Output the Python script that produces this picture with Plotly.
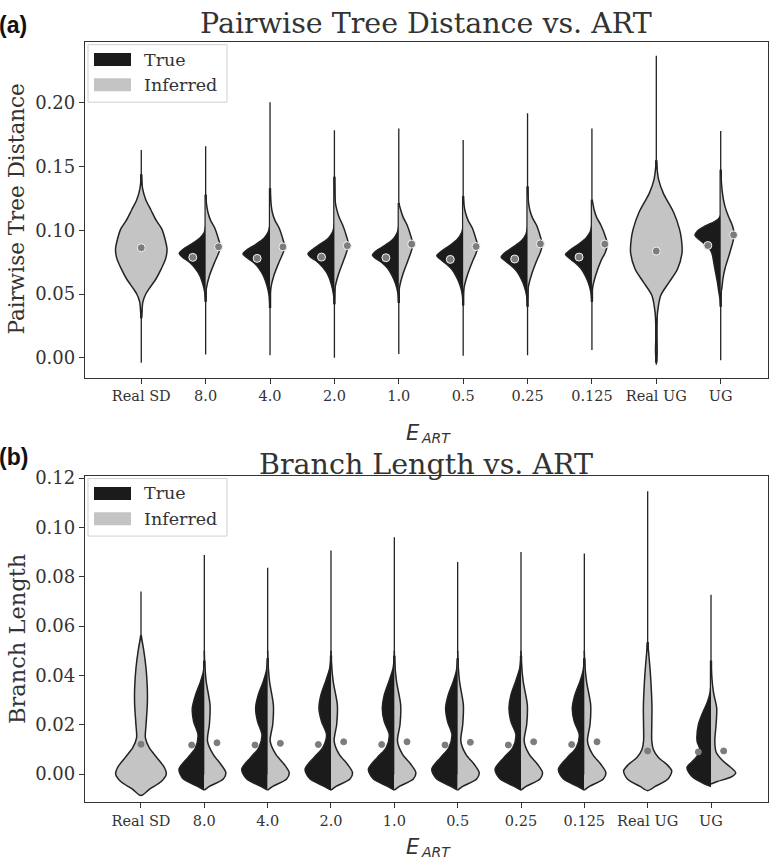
import plotly.graph_objects as go

W, H = 769, 862

CATEGORIES = ["Real SD", "8.0", "4.0", "2.0", "1.0", "0.5", "0.25", "0.125", "Real UG", "UG"]
SPLIT = ["8.0", "4.0", "2.0", "1.0", "0.5", "0.25", "0.125", "UG"]
FULL = ["Real SD", "Real UG"]

# ---------------- Panel (a): Pairwise tree distance ----------------
# half-violin outlines: [value, half-width in category units]
PTD_TRUE = {
    "8.0":   [[0.044, 0], [0.0516, 0.015], [0.058, 0.045], [0.0645, 0.09], [0.070, 0.16], [0.075, 0.25], [0.079, 0.36], [0.082, 0.41], [0.0855, 0.34], [0.0895, 0.21], [0.094, 0.09], [0.098, 0.025], [0.104, 0]],
    "4.0":   [[0.039, 0], [0.049, 0.015], [0.057, 0.05], [0.064, 0.10], [0.070, 0.17], [0.075, 0.26], [0.079, 0.37], [0.0815, 0.42], [0.085, 0.35], [0.089, 0.22], [0.094, 0.09], [0.099, 0.025], [0.105, 0]],
    "2.0":   [[0.042, 0], [0.050, 0.015], [0.058, 0.05], [0.065, 0.10], [0.071, 0.18], [0.076, 0.28], [0.079, 0.37], [0.0815, 0.41], [0.085, 0.34], [0.0895, 0.21], [0.094, 0.09], [0.099, 0.025], [0.105, 0]],
    "1.0":   [[0.043, 0], [0.051, 0.015], [0.058, 0.05], [0.064, 0.10], [0.070, 0.17], [0.075, 0.27], [0.078, 0.36], [0.0805, 0.41], [0.084, 0.35], [0.088, 0.22], [0.093, 0.09], [0.098, 0.025], [0.104, 0]],
    "0.5":   [[0.041, 0], [0.050, 0.015], [0.057, 0.05], [0.063, 0.10], [0.069, 0.17], [0.074, 0.27], [0.0775, 0.36], [0.080, 0.41], [0.0835, 0.34], [0.088, 0.21], [0.093, 0.09], [0.098, 0.025], [0.104, 0]],
    "0.25":  [[0.040, 0], [0.049, 0.015], [0.056, 0.05], [0.062, 0.10], [0.068, 0.17], [0.073, 0.27], [0.0765, 0.36], [0.079, 0.41], [0.0825, 0.35], [0.087, 0.22], [0.092, 0.09], [0.097, 0.025], [0.103, 0]],
    "0.125": [[0.044, 0], [0.051, 0.015], [0.058, 0.05], [0.064, 0.10], [0.070, 0.17], [0.075, 0.27], [0.0785, 0.36], [0.081, 0.41], [0.0845, 0.34], [0.089, 0.21], [0.094, 0.09], [0.099, 0.025], [0.105, 0]],
    "UG":    [[0.040, 0], [0.046, 0.01], [0.052, 0.03], [0.059, 0.05], [0.0697, 0.09], [0.0785, 0.12], [0.0827, 0.14], [0.086, 0.18], [0.089, 0.24], [0.093, 0.34], [0.0962, 0.40], [0.0995, 0.36], [0.1034, 0.24], [0.1065, 0.11], [0.1086, 0.04], [0.112, 0]],
}
PTD_INF = {
    "8.0":   [[0.045, 0], [0.054, 0.01], [0.0645, 0.06], [0.075, 0.14], [0.082, 0.20], [0.087, 0.23], [0.093, 0.20], [0.102, 0.14], [0.108, 0.075], [0.114, 0.036], [0.120, 0.015], [0.128, 0]],
    "4.0":   [[0.045, 0], [0.054, 0.01], [0.0645, 0.06], [0.075, 0.14], [0.082, 0.20], [0.087, 0.23], [0.093, 0.20], [0.102, 0.14], [0.108, 0.075], [0.114, 0.036], [0.121, 0.015], [0.133, 0]],
    "2.0":   [[0.046, 0], [0.055, 0.01], [0.065, 0.06], [0.076, 0.14], [0.083, 0.19], [0.089, 0.22], [0.095, 0.19], [0.104, 0.13], [0.110, 0.075], [0.1165, 0.036], [0.1215, 0.015], [0.142, 0]],
    "1.0":   [[0.046, 0], [0.055, 0.01], [0.065, 0.06], [0.076, 0.14], [0.083, 0.19], [0.089, 0.22], [0.095, 0.19], [0.104, 0.13], [0.110, 0.07], [0.116, 0.03], [0.1215, 0]],
    "0.5":   [[0.045, 0], [0.054, 0.01], [0.064, 0.06], [0.075, 0.14], [0.082, 0.20], [0.0873, 0.23], [0.093, 0.20], [0.102, 0.14], [0.108, 0.075], [0.114, 0.035], [0.120, 0.012], [0.127, 0]],
    "0.25":  [[0.046, 0], [0.055, 0.01], [0.065, 0.06], [0.076, 0.14], [0.083, 0.20], [0.089, 0.23], [0.095, 0.20], [0.104, 0.14], [0.110, 0.075], [0.116, 0.035], [0.122, 0.015], [0.1345, 0]],
    "0.125": [[0.046, 0], [0.055, 0.01], [0.065, 0.06], [0.076, 0.14], [0.083, 0.21], [0.089, 0.24], [0.095, 0.21], [0.104, 0.14], [0.110, 0.075], [0.116, 0.035], [0.1215, 0.012], [0.124, 0]],
    "UG":    [[0.050, 0], [0.054, 0.016], [0.062, 0.035], [0.070, 0.067], [0.083, 0.145], [0.0964, 0.21], [0.104, 0.18], [0.111, 0.12], [0.120, 0.06], [0.130, 0.025], [0.140, 0.008], [0.1475, 0]],
}
PTD_FULL = {
    "Real SD": [[0.031, 0], [0.0438, 0.025], [0.050, 0.07], [0.054, 0.12], [0.062, 0.23], [0.0697, 0.31], [0.078, 0.38], [0.0853, 0.40], [0.093, 0.37], [0.101, 0.32], [0.108, 0.23], [0.116, 0.15], [0.124, 0.07], [0.133, 0.02], [0.144, 0]],
    "Real UG": [[-0.004, 0], [0.005, 0.012], [0.015, 0.008], [0.025, 0.008], [0.036, 0.02], [0.049, 0.07], [0.0593, 0.20], [0.0697, 0.33], [0.0827, 0.40], [0.093, 0.39], [0.101, 0.36], [0.114, 0.27], [0.1215, 0.19], [0.129, 0.11], [0.140, 0.035], [0.155, 0]],
}
PTD_MEAN_TRUE = [0.0788, 0.0780, 0.0790, 0.0785, 0.0772, 0.0775, 0.0790, 0.0881]
PTD_MEAN_INF = [0.0871, 0.0870, 0.0880, 0.0892, 0.0873, 0.0894, 0.0892, 0.0964]
PTD_MEAN_FULL = [0.0863, 0.0837]
PTD_MIN = [-0.004, 0.0025, 0.002, 0.0, 0.003, 0.0015, 0.002, 0.006, -0.0055, -0.002]
PTD_MAX = [0.163, 0.166, 0.2006, 0.1786, 0.180, 0.171, 0.192, 0.180, 0.237, 0.178]
PTD_WLO = [0.031, 0.044, 0.039, 0.042, 0.043, 0.041, 0.040, 0.044, -0.004, 0.040]
PTD_WHI = [0.144, 0.128, 0.133, 0.142, 0.1215, 0.127, 0.1345, 0.124, 0.155, 0.1475]

# ---------------- Panel (b): Branch length ----------------
BL_TRUE = {
    "8.0":   [[-0.0065, 0], [-0.005, 0.10], [-0.002, 0.33], [0.002, 0.40], [0.0067, 0.26], [0.0107, 0.14], [0.016, 0.10], [0.0214, 0.17], [0.0267, 0.19], [0.032, 0.14], [0.0375, 0.06], [0.0415, 0.015], [0.046, 0]],
    "4.0":   [[-0.0065, 0], [-0.005, 0.10], [-0.002, 0.33], [0.002, 0.41], [0.0067, 0.27], [0.0107, 0.14], [0.016, 0.09], [0.0214, 0.16], [0.0267, 0.19], [0.032, 0.15], [0.0375, 0.07], [0.042, 0.02], [0.047, 0]],
    "2.0":   [[-0.0065, 0], [-0.005, 0.10], [-0.002, 0.33], [0.002, 0.41], [0.0067, 0.27], [0.0107, 0.13], [0.016, 0.07], [0.0214, 0.15], [0.0267, 0.19], [0.032, 0.16], [0.038, 0.08], [0.043, 0.02], [0.048, 0]],
    "1.0":   [[-0.0065, 0], [-0.005, 0.10], [-0.002, 0.33], [0.002, 0.41], [0.0067, 0.27], [0.0107, 0.13], [0.016, 0.08], [0.0214, 0.16], [0.0267, 0.19], [0.032, 0.16], [0.038, 0.08], [0.043, 0.02], [0.048, 0]],
    "0.5":   [[-0.0065, 0], [-0.005, 0.10], [-0.002, 0.33], [0.002, 0.41], [0.0067, 0.27], [0.0107, 0.14], [0.016, 0.09], [0.0214, 0.16], [0.0267, 0.19], [0.032, 0.15], [0.0375, 0.07], [0.042, 0.02], [0.047, 0]],
    "0.25":  [[-0.0065, 0], [-0.005, 0.10], [-0.002, 0.33], [0.002, 0.41], [0.0067, 0.27], [0.0107, 0.13], [0.016, 0.08], [0.0214, 0.16], [0.0267, 0.19], [0.032, 0.16], [0.038, 0.08], [0.043, 0.02], [0.048, 0]],
    "0.125": [[-0.0065, 0], [-0.005, 0.10], [-0.002, 0.33], [0.002, 0.41], [0.0067, 0.27], [0.0107, 0.13], [0.016, 0.08], [0.0214, 0.16], [0.0267, 0.19], [0.032, 0.15], [0.0375, 0.07], [0.042, 0.02], [0.047, 0]],
    "UG":    [[-0.005, 0], [-0.004, 0.10], [-0.001, 0.30], [0.0027, 0.38], [0.006, 0.26], [0.0094, 0.17], [0.0134, 0.22], [0.020, 0.20], [0.025, 0.13], [0.029, 0.06], [0.033, 0.015], [0.037, 0]],
}
BL_INF = {
    "8.0":   [[-0.0065, 0], [-0.005, 0.08], [-0.002, 0.30], [0.0006, 0.34], [0.004, 0.26], [0.008, 0.14], [0.0134, 0.05], [0.0201, 0.08], [0.0281, 0.09], [0.0375, 0.03], [0.0455, 0.005], [0.050, 0]],
    "4.0":   [[-0.0065, 0], [-0.005, 0.08], [-0.002, 0.30], [0.0006, 0.34], [0.004, 0.26], [0.008, 0.13], [0.0134, 0.04], [0.0201, 0.08], [0.0281, 0.09], [0.0375, 0.03], [0.0455, 0.005], [0.050, 0]],
    "2.0":   [[-0.0065, 0], [-0.005, 0.08], [-0.002, 0.30], [0.0006, 0.34], [0.004, 0.26], [0.008, 0.13], [0.0134, 0.05], [0.0201, 0.09], [0.0281, 0.10], [0.0375, 0.035], [0.0455, 0.005], [0.050, 0]],
    "1.0":   [[-0.0065, 0], [-0.005, 0.08], [-0.002, 0.30], [0.0006, 0.34], [0.004, 0.26], [0.008, 0.13], [0.0134, 0.05], [0.0201, 0.09], [0.0281, 0.10], [0.0375, 0.035], [0.0455, 0.005], [0.050, 0]],
    "0.5":   [[-0.0065, 0], [-0.005, 0.08], [-0.002, 0.30], [0.0006, 0.34], [0.004, 0.26], [0.008, 0.13], [0.0134, 0.05], [0.0201, 0.08], [0.0281, 0.09], [0.0375, 0.03], [0.0455, 0.005], [0.050, 0]],
    "0.25":  [[-0.0065, 0], [-0.005, 0.08], [-0.002, 0.30], [0.0006, 0.34], [0.004, 0.26], [0.008, 0.13], [0.0134, 0.05], [0.0201, 0.09], [0.0281, 0.10], [0.0375, 0.035], [0.0455, 0.005], [0.050, 0]],
    "0.125": [[-0.0065, 0], [-0.005, 0.08], [-0.002, 0.30], [0.0006, 0.34], [0.004, 0.26], [0.008, 0.13], [0.0134, 0.05], [0.0201, 0.09], [0.0281, 0.10], [0.0375, 0.035], [0.0455, 0.005], [0.050, 0]],
    "UG":    [[-0.004, 0], [-0.003, 0.10], [-0.001, 0.33], [0.0006, 0.39], [0.003, 0.30], [0.0053, 0.19], [0.009, 0.08], [0.0134, 0.06], [0.020, 0.08], [0.0267, 0.09], [0.033, 0.04], [0.040, 0.01], [0.046, 0]],
}
BL_FULL = {
    "Real SD": [[-0.0087, 0], [-0.006, 0.14], [-0.003, 0.32], [0.0, 0.40], [0.0027, 0.37], [0.0067, 0.25], [0.0107, 0.13], [0.0147, 0.07], [0.0201, 0.08], [0.0281, 0.10], [0.0348, 0.10], [0.0428, 0.08], [0.0508, 0.04], [0.0562, 0]],
    "Real UG": [[-0.0067, 0], [-0.005, 0.12], [-0.002, 0.32], [0.0013, 0.38], [0.0040, 0.30], [0.0067, 0.17], [0.010, 0.09], [0.0134, 0.065], [0.020, 0.065], [0.0267, 0.068], [0.033, 0.06], [0.040, 0.045], [0.048, 0.02], [0.0535, 0]],
}
BL_MEAN_TRUE = [0.0118, 0.0118, 0.0120, 0.0120, 0.0118, 0.0118, 0.0120, 0.0090]
BL_MEAN_INF = [0.0127, 0.0125, 0.0131, 0.0131, 0.0129, 0.0131, 0.0131, 0.0094]
BL_MEAN_FULL = [0.0121, 0.0094]
BL_MIN = [0.0, 0.0, 0.0, 0.0, 0.0, 0.0, 0.0, 0.0, 0.0, 0.0]
BL_MAX = [0.074, 0.0888, 0.0837, 0.0906, 0.096, 0.086, 0.090, 0.0894, 0.1147, 0.0727]
BL_WLO = [0.0, 0.0, 0.0, 0.0, 0.0, 0.0, 0.0, 0.0, 0.0, 0.0]
BL_WHI = [0.0562, 0.046, 0.047, 0.048, 0.048, 0.047, 0.048, 0.047, 0.0535, 0.046]

TRUE_COLOR = "#1b1b1b"
INF_COLOR = "#c4c4c4"
EDGE = "#222222"
DOT = "#7c7c7c"
TXT = "#333333"
SERIF = "DejaVu Serif, serif"
SANS = "Liberation Sans, Arial, sans-serif"
ITAL = "DejaVu Sans, sans-serif"

fig = go.Figure()


def add_panel(xa, ya, true_d, inf_d, full_d, m_true, m_inf, m_full, vmin, vmax, wlo, whi, dot_edge, dot_size):
    # whisker lines
    for i, c in enumerate(CATEGORIES):
        fig.add_trace(go.Scatter(x=[i, i], y=[vmin[i], vmax[i]], mode="lines",
                                 line=dict(color=EDGE, width=1.3), xaxis=xa, yaxis=ya,
                                 showlegend=False, hoverinfo="skip"))
        fig.add_trace(go.Scatter(x=[i, i], y=[wlo[i], whi[i]], mode="lines",
                                 line=dict(color=EDGE, width=2.4), xaxis=xa, yaxis=ya,
                                 showlegend=False, hoverinfo="skip"))
    # full violins
    for c in FULL:
        i = CATEGORIES.index(c)
        prof = full_d[c]
        ys = [p[0] for p in prof] + [p[0] for p in prof[::-1]]
        xs = [i + p[1] for p in prof] + [i - p[1] for p in prof[::-1]]
        fig.add_trace(go.Scatter(x=xs, y=ys, mode="lines", fill="toself", fillcolor=INF_COLOR,
                                 line=dict(color=EDGE, width=1.5, shape="spline", smoothing=0.8),
                                 xaxis=xa, yaxis=ya, showlegend=False, hoverinfo="skip"))
    # split violins
    for c in SPLIT:
        i = CATEGORIES.index(c)
        for prof, side, col in ((true_d[c], -1, TRUE_COLOR), (inf_d[c], 1, INF_COLOR)):
            fig.add_trace(go.Scatter(x=[i + side * p[1] for p in prof], y=[p[0] for p in prof],
                                     mode="lines", fill="toself", fillcolor=col,
                                     line=dict(color=EDGE, width=1.5, shape="spline", smoothing=0.8),
                                     xaxis=xa, yaxis=ya, showlegend=False, hoverinfo="skip"))
    # mean markers
    sx = [CATEGORIES.index(c) for c in SPLIT]
    fx = [CATEGORIES.index(c) for c in FULL]
    mk = dict(color=DOT, size=dot_size, line=dict(color=dot_edge, width=1))
    fig.add_trace(go.Scatter(x=[v - 0.2 for v in sx], y=m_true, mode="markers", marker=mk,
                             xaxis=xa, yaxis=ya, showlegend=False))
    fig.add_trace(go.Scatter(x=[v + 0.2 for v in sx], y=m_inf, mode="markers", marker=mk,
                             xaxis=xa, yaxis=ya, showlegend=False))
    fig.add_trace(go.Scatter(x=fx, y=m_full, mode="markers", marker=mk,
                             xaxis=xa, yaxis=ya, showlegend=False))


add_panel("x", "y", PTD_TRUE, PTD_INF, PTD_FULL, PTD_MEAN_TRUE, PTD_MEAN_INF, PTD_MEAN_FULL,
          PTD_MIN, PTD_MAX, PTD_WLO, PTD_WHI, "#f2f2f2", 8)
add_panel("x2", "y2", BL_TRUE, BL_INF, BL_FULL, BL_MEAN_TRUE, BL_MEAN_INF, BL_MEAN_FULL,
          BL_MIN, BL_MAX, BL_WLO, BL_WHI, DOT, 6)

# layout geometry (pixels)
L, R = 85, 767.5
T1, B1 = 34, 373
T2, B2 = 472, 801.7


def px(x):
    return x / W


def py(y):
    return 1 - y / H


axis_common = dict(showline=True, mirror=True, linecolor=TXT, linewidth=1.3, ticks="outside",
                   ticklen=5, tickwidth=1.2, tickcolor=TXT, showgrid=False, zeroline=False)

fig.update_layout(
    width=W, height=H, margin=dict(l=0, r=0, t=0, b=0),
    paper_bgcolor="white", plot_bgcolor="white", showlegend=False,
    font=dict(family=SERIF, color=TXT),
    xaxis=dict(domain=[px(L), px(R)], range=[-0.874, 9.727], tickvals=list(range(10)),
               ticktext=CATEGORIES, tickfont=dict(size=14.5, family=SERIF, color=TXT),
               anchor="y", **axis_common),
    yaxis=dict(domain=[py(B1), py(T1)], range=[-0.01555, 0.2481], tickvals=[0, 0.05, 0.10, 0.15, 0.20],
               tickformat=".2f", tickfont=dict(size=18, family=SERIF, color=TXT), anchor="x", **axis_common),
    xaxis2=dict(domain=[px(L), px(R)], range=[-0.884, 9.892], tickvals=list(range(10)),
                ticktext=CATEGORIES, tickfont=dict(size=14.5, family=SERIF, color=TXT),
                anchor="y2", **axis_common),
    yaxis2=dict(domain=[py(B2), py(T2)], range=[-0.0114, 0.1210],
                tickvals=[0, 0.02, 0.04, 0.06, 0.08, 0.10, 0.12], tickformat=".2f",
                tickfont=dict(size=18, family=SERIF, color=TXT), anchor="x2", **axis_common),
)

ann = []
shapes = []


def text(x, y, s, size, family=SERIF, angle=0, xanchor="center", color=TXT):
    ann.append(dict(x=px(x), y=py(y), xref="paper", yref="paper", text=s, showarrow=False,
                    font=dict(size=size, family=family, color=color), textangle=angle,
                    xanchor=xanchor, yanchor="middle", borderpad=0))


# titles and labels
text(426, 16, "Pairwise Tree Distance vs. ART", 28.5)
text(426, 461, "Branch Length vs. ART", 28.5)
text(13, 17, "<b>(a)</b>", 23, family=SANS, color="#111")
text(13, 453, "<b>(b)</b>", 23, family=SANS, color="#111")
text(17, (T1 + B1) / 2, "Pairwise Tree Distance", 21.5, angle=-90)
text(17, (T2 + B2) / 2, "Branch Length", 22.5, angle=-90)
# x-axis label E_ART (E with italic subscript ART)
for ey in (429, 847):
    text(421, ey, "<i>E</i>", 21, family=ITAL, xanchor="right")
    text(420, ey + 5, "<i>ART</i>", 14, family=ITAL, xanchor="left")

# legends
for top in (T1, T2):
    shapes.append(dict(type="rect", xref="paper", yref="paper", x0=px(88), x1=px(227),
                       y0=py(top + 61), y1=py(top + 3), line=dict(color="#d0d0d0", width=1),
                       fillcolor="rgba(255,255,255,0.85)"))
    shapes.append(dict(type="rect", xref="paper", yref="paper", x0=px(94), x1=px(131),
                       y0=py(top + 24.5), y1=py(top + 11.5), line=dict(width=0), fillcolor=TRUE_COLOR))
    shapes.append(dict(type="rect", xref="paper", yref="paper", x0=px(94), x1=px(131),
                       y0=py(top + 50), y1=py(top + 37), line=dict(width=0), fillcolor=INF_COLOR))
    text(143, top + 18, "True", 17.5, xanchor="left")
    text(143, top + 43.5, "Inferred", 17.5, xanchor="left")

fig.update_layout(annotations=ann, shapes=shapes)
fig.write_html("out.html", config={"displayModeBar": False},
               post_script="document.body.style.margin='0px';")
